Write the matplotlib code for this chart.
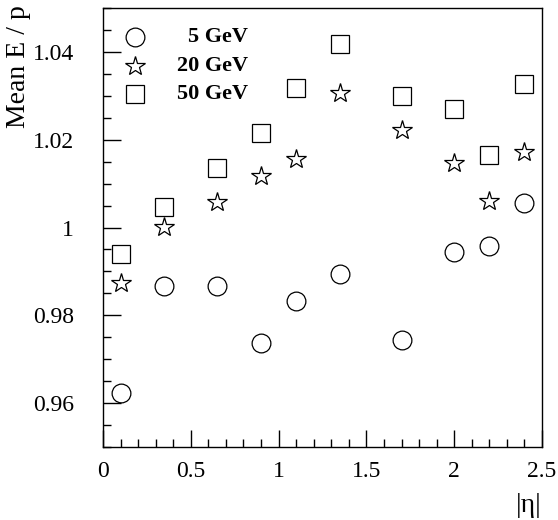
import numpy as np
import matplotlib
matplotlib.use("Agg")
from matplotlib import pyplot as plt

# |eta| bin centres
eta = [0.1, 0.35, 0.65, 0.9, 1.1, 1.35, 1.7, 2.0, 2.2, 2.4]

# mean E/p for each beam energy
ep_5gev = [0.9623, 0.9867, 0.9867, 0.9737, 0.9833, 0.9893, 0.9743, 0.9945, 0.9957, 1.0055]
ep_20gev = [0.9873, 1.0002, 1.0057, 1.0118, 1.0156, 1.0307, 1.0222, 1.0148, 1.0060, 1.0171]
ep_50gev = [0.9939, 1.0046, 1.0136, 1.0215, 1.0318, 1.0419, 1.0300, 1.0271, 1.0166, 1.0328]

labels = ["5 GeV", "20 GeV", "50 GeV"]
markers = ["o", "*", "s"]

plt.rcParams['font.family'] = 'Liberation Serif'

fig = plt.figure(figsize=(5.58, 5.2), dpi=100, facecolor='white')
ax = fig.add_axes([0.1846, 0.1404, 0.9713 - 0.1846, 0.9846 - 0.1404])

sizes = [13.5, 14.5, 13.5]
for y, m, ms in zip([ep_5gev, ep_20gev, ep_50gev], markers, sizes):
    ax.plot(eta, y, linestyle='none', marker=m, markersize=ms,
            markerfacecolor='none', markeredgecolor='black', markeredgewidth=0.9)

ax.set_xlim(0, 2.5)
ax.set_ylim(0.95, 1.05)
ax.set_xticks([0, 0.5, 1, 1.5, 2, 2.5])
ax.set_xticklabels(["0", "0.5", "1", "1.5", "2", "2.5"])
ax.set_xticks(np.arange(0, 2.5001, 0.1), minor=True)
ax.set_yticks([0.96, 0.98, 1.0, 1.02, 1.04])
ax.set_yticklabels(["0.96", "0.98", "1", "1.02", "1.04"])
ax.set_yticks(np.arange(0.95, 1.0501, 0.005), minor=True)
ax.tick_params(which='both', direction='in', labelsize=17, width=1.0)
ax.tick_params(which='minor', length=6)
ax.tick_params(axis='x', which='major', length=12, pad=10)
ax.tick_params(axis='y', which='major', length=13, pad=21)
for s in ax.spines.values():
    s.set_linewidth(1.0)

# legend drawn by hand: markers left, labels right-aligned
for i, (lab, m, ms) in enumerate(zip(labels, markers, sizes)):
    yy = 0.935 - i * 0.066
    ax.plot([0.073], [yy], transform=ax.transAxes, linestyle='none', marker=m,
            markersize=ms, markerfacecolor='none', markeredgecolor='black',
            markeredgewidth=0.9, clip_on=False)
    ax.text(0.33, yy, lab, transform=ax.transAxes, ha='right', va='center',
            fontsize=16, fontweight='bold')

fig.text(0.034, 0.99, "Mean E / p", rotation=90, ha='center', va='top', fontsize=20)
fig.text(0.9713, 0.028, "|η|", ha='right', va='center', fontsize=20)

fig.savefig("out.png", dpi=100)
